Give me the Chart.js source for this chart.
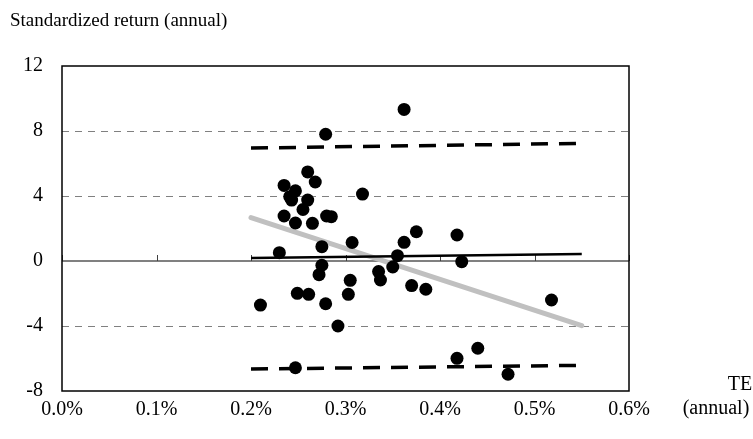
<!DOCTYPE html>
<html>
<head>
<meta charset="utf-8">
<script src="https://cdn.jsdelivr.net/npm/chart.js@4.4.1/dist/chart.umd.min.js"></script>
<style>
html, body { margin: 0; padding: 0; background: #fff; overflow: hidden; }
canvas { display: block; }
</style>
</head>
<body>
<canvas id="chart" width="753" height="439"></canvas>
<script>
// tracking error (annual, %) and standardized return of each fund
var teValues = [0.279, 0.362, 0.260, 0.268, 0.235, 0.247, 0.241, 0.243, 0.260, 0.318,
                0.255, 0.235, 0.247, 0.265, 0.280, 0.285, 0.230, 0.275, 0.307, 0.362,
                0.375, 0.355, 0.350, 0.335, 0.337, 0.275, 0.272, 0.305, 0.370, 0.385,
                0.418, 0.423, 0.518, 0.303, 0.249, 0.261, 0.279, 0.210, 0.292, 0.247,
                0.418, 0.440, 0.472];
var returnValues = [7.80, 9.33, 5.48, 4.86, 4.65, 4.32, 3.96, 3.75, 3.75, 4.12,
                    3.17, 2.77, 2.34, 2.32, 2.77, 2.73, 0.51, 0.88, 1.14, 1.15,
                    1.80, 0.33, -0.37, -0.65, -1.17, -0.26, -0.84, -1.19, -1.51, -1.74,
                    1.60, -0.04, -2.40, -2.05, -1.99, -2.05, -2.63, -2.71, -4.00, -6.57,
                    -5.99, -5.37, -6.97];

// fitted lines: start and end of each
var lineX = [0.2, 0.55];
var upperBand = [6.95, 7.24];
var lowerBand = [-6.65, -6.42];
var flatFit = [0.18, 0.43];
var slopeFit = [2.67, -3.98];

var xTicks = [0, 0.1, 0.2, 0.3, 0.4, 0.5, 0.6];
var yTicks = [-8, -4, 0, 4, 8, 12];
var dashedGrid = [8, 4, -4];

var serif = "'Liberation Serif', 'Times New Roman', serif";

function pairs(xs, ys) {
    return xs.map(function(x, i) { return {x: x, y: ys[i]}; });
}

var framePlugin = {
    id: 'frame',
    beforeDatasetsDraw: function(chart) {
        var ctx = chart.ctx, a = chart.chartArea;
        var xs = chart.scales.x, ys = chart.scales.y;
        var y0 = ys.getPixelForValue(0);
        ctx.save();
        // zero line with small ticks
        ctx.strokeStyle = '#808080';
        ctx.lineWidth = 2;
        ctx.beginPath();
        ctx.moveTo(a.left, y0);
        ctx.lineTo(a.right, y0);
        ctx.stroke();
        ctx.strokeStyle = '#404040';
        ctx.lineWidth = 1;
        xTicks.forEach(function(t) {
            var px = Math.round(xs.getPixelForValue(t)) + 0.5;
            ctx.beginPath();
            ctx.moveTo(px, y0);
            ctx.lineTo(px, y0 - 6);
            ctx.stroke();
        });
        // frame
        ctx.strokeStyle = '#000';
        ctx.lineWidth = 1.5;
        ctx.strokeRect(a.left, a.top, a.right - a.left, a.bottom - a.top);
        ctx.restore();
    },
    afterDraw: function(chart) {
        var ctx = chart.ctx;
        ctx.save();
        ctx.fillStyle = '#000';
        ctx.font = '19px ' + serif;
        ctx.textBaseline = 'middle';
        ctx.textAlign = 'left';
        ctx.fillText('Standardized return (annual)', 10, 21);
        ctx.font = '20px ' + serif;
        ctx.textAlign = 'center';
        ctx.fillText('TE', 740, 385);
        ctx.fillText('(annual)', 716, 409);
        ctx.restore();
    }
};

new Chart(document.getElementById('chart'), {
    type: 'scatter',
    data: {
        datasets: [
            {
                label: 'Funds',
                data: pairs(teValues, returnValues),
                pointRadius: 6.5,
                pointHoverRadius: 6.5,
                backgroundColor: '#000',
                borderWidth: 0,
                order: 0
            },
            {
                label: 'Upper band',
                data: pairs(lineX, upperBand),
                showLine: true,
                pointRadius: 0,
                borderColor: '#000',
                borderWidth: 3.5,
                borderDash: [17, 11],
                order: 1
            },
            {
                label: 'Lower band',
                data: pairs(lineX, lowerBand),
                showLine: true,
                pointRadius: 0,
                borderColor: '#000',
                borderWidth: 3.5,
                borderDash: [17, 11],
                order: 1
            },
            {
                label: 'Flat fit',
                data: pairs(lineX, flatFit),
                showLine: true,
                pointRadius: 0,
                borderColor: '#000',
                borderWidth: 2.5,
                order: 1
            },
            {
                label: 'Regression',
                data: pairs(lineX, slopeFit),
                showLine: true,
                pointRadius: 0,
                borderColor: '#c0c0c0',
                borderWidth: 5,
                borderCapStyle: 'round',
                order: 1
            }
        ]
    },
    options: {
        responsive: false,
        animation: false,
        layout: {
            padding: { top: 66, right: 124, bottom: 14, left: 0 }
        },
        plugins: {
            legend: { display: false },
            tooltip: { enabled: false }
        },
        scales: {
            x: {
                type: 'linear',
                min: 0,
                max: 0.6,
                afterBuildTicks: function(scale) {
                    scale.ticks = xTicks.map(function(v) { return {value: v}; });
                },
                afterFit: function(scale) { scale.height = 34; },
                grid: { display: false, drawTicks: false },
                border: { display: false },
                ticks: {
                    color: '#000',
                    padding: 7,
                    font: { family: serif, size: 20 },
                    callback: function(v) { return v.toFixed(1) + '%'; }
                }
            },
            y: {
                type: 'linear',
                min: -8,
                max: 12,
                afterBuildTicks: function(scale) {
                    scale.ticks = yTicks.map(function(v) { return {value: v}; });
                },
                afterFit: function(scale) { scale.width = 62; },
                grid: {
                    drawTicks: false,
                    lineWidth: 1,
                    color: function(c) {
                        return c.tick && dashedGrid.indexOf(c.tick.value) >= 0 ? '#808080' : 'rgba(0,0,0,0)';
                    }
                },
                border: { display: false, dash: [7, 6] },
                ticks: {
                    color: '#000',
                    padding: 19,
                    font: { family: serif, size: 20 }
                }
            }
        }
    },
    plugins: [framePlugin]
});
</script>
</body>
</html>
